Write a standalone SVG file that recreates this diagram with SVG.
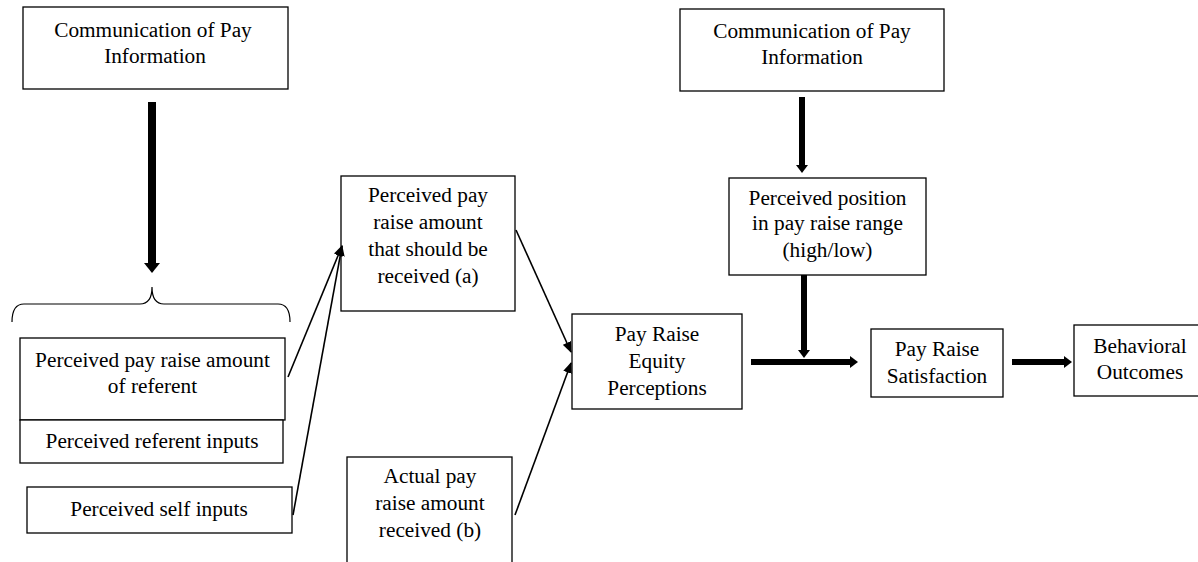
<svg xmlns="http://www.w3.org/2000/svg" width="1198" height="562" viewBox="0 0 1198 562">
<style>
.box{fill:#fff;stroke:#000;stroke-width:1.3}
.t{font-family:"Liberation Serif","Times New Roman",serif;font-size:21.3px;fill:#000;text-anchor:middle}
.thin{stroke:#000;stroke-width:1.6;fill:none}
.thk{stroke:#000;stroke-width:6;fill:none}
.thk8{stroke:#000;stroke-width:8;fill:none}
.brace{stroke:#000;stroke-width:1.2;fill:none}
</style>
<defs>
<marker id="hL" markerUnits="userSpaceOnUse" viewBox="0 0 10 16" markerWidth="10" markerHeight="16" refX="0" refY="8" orient="auto"><path d="M0,0 L10,8 L0,16 z" fill="#000"/></marker>
<marker id="hM" markerUnits="userSpaceOnUse" viewBox="0 0 8 12" markerWidth="8" markerHeight="12" refX="0" refY="6" orient="auto"><path d="M0,0 L8,6 L0,12 z" fill="#000"/></marker>
<marker id="hS" markerUnits="userSpaceOnUse" viewBox="0 0 11 9" markerWidth="11" markerHeight="9" refX="10" refY="4.5" orient="auto"><path d="M0,0 L11,4.5 L0,9 z" fill="#000"/></marker>
</defs>
<g id="comm-left"><rect class="box" x="23" y="7" width="265" height="82"/><text class="t" x="153" y="37">Communication of Pay</text><text class="t" x="155" y="63">Information</text></g>
<g id="referent-amount"><rect class="box" x="20" y="338" width="265" height="82"/><text class="t" x="152.5" y="367">Perceived pay raise amount</text><text class="t" x="152.5" y="393">of referent</text></g>
<g id="referent-inputs"><rect class="box" x="20" y="420" width="263" height="43"/><text class="t" x="152" y="448">Perceived referent inputs</text></g>
<g id="self-inputs"><rect class="box" x="27" y="487" width="265" height="46"/><text class="t" x="159" y="516">Perceived self inputs</text></g>
<g id="should-receive"><rect class="box" x="341" y="176" width="174" height="135"/><text class="t" x="428" y="202">Perceived pay</text><text class="t" x="428" y="229">raise amount</text><text class="t" x="428" y="256">that should be</text><text class="t" x="428" y="283">received (a)</text></g>
<g id="actual-received"><rect class="box" x="347" y="457" width="165" height="120"/><text class="t" x="430" y="483">Actual pay</text><text class="t" x="430" y="510">raise amount</text><text class="t" x="430" y="537">received (b)</text></g>
<g id="equity"><rect class="box" x="572" y="314" width="170" height="95"/><text class="t" x="657" y="341">Pay Raise</text><text class="t" x="657" y="368">Equity</text><text class="t" x="657" y="395">Perceptions</text></g>
<g id="comm-right"><rect class="box" x="680" y="9" width="264" height="82"/><text class="t" x="812" y="38">Communication of Pay</text><text class="t" x="812" y="64">Information</text></g>
<g id="position"><rect class="box" x="729" y="178" width="197" height="97"/><text class="t" x="827.5" y="205">Perceived position</text><text class="t" x="827.5" y="230">in pay raise range</text><text class="t" x="827.5" y="257">(high/low)</text></g>
<g id="satisfaction"><rect class="box" x="871" y="329" width="132" height="68"/><text class="t" x="937" y="356">Pay Raise</text><text class="t" x="937" y="383">Satisfaction</text></g>
<g id="outcomes"><rect class="box" x="1074" y="325" width="140" height="71"/><text class="t" x="1140" y="353">Behavioral</text><text class="t" x="1140" y="379">Outcomes</text></g>
<g id="connectors">
<line class="thk8" x1="152" y1="102" x2="152" y2="263" marker-end="url(#hL)"/>
<path class="brace" d="M12,322 Q12,304 24,304 L140,304 Q152,304 152,287 Q152,304 164,304 L278,304 Q290,304 290,322"/>
<line class="thin" x1="288" y1="377" x2="342" y2="246" marker-end="url(#hS)"/>
<line class="thin" x1="293" y1="515" x2="342" y2="246" marker-end="url(#hS)"/>
<line class="thin" x1="516" y1="230" x2="571" y2="352" marker-end="url(#hS)"/>
<line class="thin" x1="515" y1="515" x2="571" y2="363" marker-end="url(#hS)"/>
<line class="thk" x1="802" y1="97" x2="802" y2="165" marker-end="url(#hM)"/>
<line class="thk" x1="804" y1="275" x2="804" y2="350" marker-end="url(#hM)"/>
<line class="thk" x1="751" y1="362" x2="850" y2="362" marker-end="url(#hM)"/>
<line class="thk" x1="1012" y1="362" x2="1064" y2="362" marker-end="url(#hM)"/>
</g>
</svg>
